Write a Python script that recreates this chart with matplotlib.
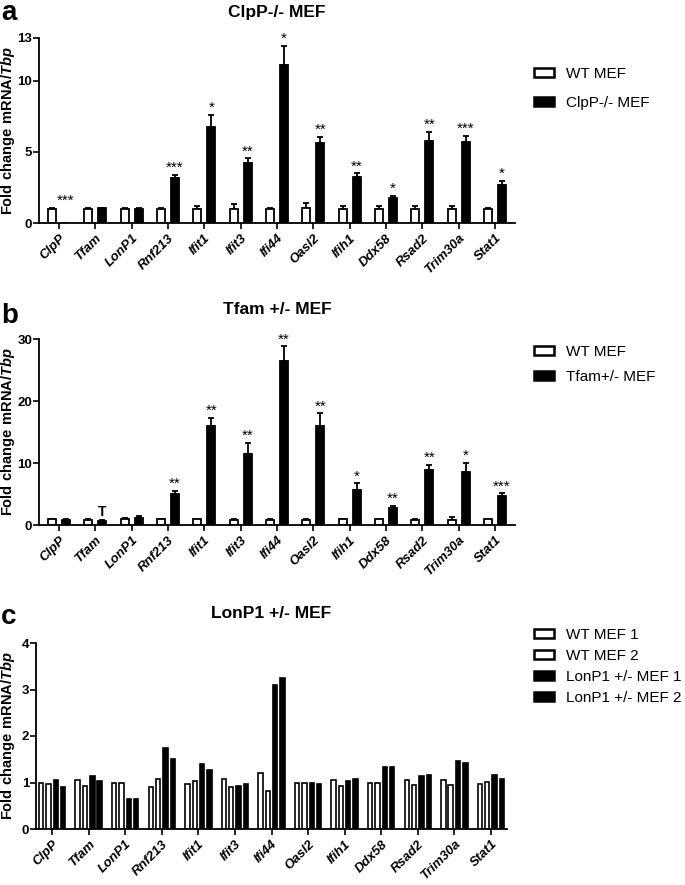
import matplotlib
matplotlib.use('Agg')
import matplotlib.pyplot as plt
from matplotlib.patches import Patch
import numpy as np

plt.rcParams['font.family'] = ['Liberation Sans', 'DejaVu Sans']
plt.rcParams['mathtext.fontset'] = 'custom'
plt.rcParams['mathtext.bfit'] = 'Liberation Sans:italic:bold'
plt.rcParams['mathtext.bf'] = 'Liberation Sans:bold'

genes = ['ClpP', 'Tfam', 'LonP1', 'Rnf213', 'Ifit1', 'Ifit3', 'Ifi44',
         'Oasl2', 'Ifih1', 'Ddx58', 'Rsad2', 'Trim30a', 'Stat1']

# Panel a: ClpP-/- MEF
a_wt = [1.0, 1.0, 1.0, 1.0, 1.0, 1.0, 1.0, 1.05, 1.0, 1.0, 0.98, 1.0, 1.0]
a_wt_err = [0.05, 0.05, 0.04, 0.05, 0.22, 0.36, 0.07, 0.35, 0.2, 0.2, 0.22, 0.2, 0.08]
a_ko = [0.0, 1.03, 0.97, 3.18, 6.78, 4.23, 11.13, 5.6, 3.2, 1.79, 5.76, 5.69, 2.7]
a_ko_err = [0.0, 0.05, 0.05, 0.22, 0.82, 0.31, 1.29, 0.47, 0.28, 0.09, 0.64, 0.43, 0.28]
a_sig = ['***', '', '', '***', '*', '**', '*', '**', '**', '*', '**', '***', '*']
a_labels = ['WT MEF', 'ClpP-/- MEF']

# Panel b: Tfam +/- MEF
b_wt = [0.9, 0.85, 1.0, 0.9, 0.9, 0.85, 0.85, 0.85, 0.9, 0.9, 0.85, 0.85, 0.9]
b_wt_err = [0.05, 0.05, 0.12, 0.05, 0.1, 0.05, 0.05, 0.05, 0.1, 0.1, 0.05, 0.45, 0.05]
b_ko = [0.8, 0.7, 1.15, 5.0, 15.9, 11.5, 26.5, 15.9, 5.65, 2.74, 8.88, 8.6, 4.7]
b_ko_err = [0.1, 0.1, 0.25, 0.45, 1.4, 1.7, 2.3, 2.1, 1.05, 0.33, 0.86, 1.45, 0.4]
b_sig = ['', 'T', '', '**', '**', '**', '**', '**', '*', '**', '**', '*', '***']
b_labels = ['WT MEF', 'Tfam+/- MEF']

# Panel c: LonP1 +/- MEF
c_wt1 = [1.00, 1.05, 1.00, 0.91, 0.97, 1.08, 1.21, 1.00, 1.06, 1.00, 1.06, 1.05, 0.97]
c_wt2 = [0.97, 0.93, 0.99, 1.08, 1.03, 0.90, 0.82, 0.99, 0.92, 0.99, 0.95, 0.94, 1.02]
c_het1 = [1.06, 1.15, 0.65, 1.75, 1.40, 0.92, 3.10, 0.98, 1.04, 1.33, 1.13, 1.46, 1.17]
c_het2 = [0.90, 1.04, 0.65, 1.50, 1.27, 0.96, 3.25, 0.97, 1.08, 1.33, 1.16, 1.42, 1.07]
c_labels = ['WT MEF 1', 'WT MEF 2', 'LonP1 +/- MEF 1', 'LonP1 +/- MEF 2']

W, H = 685, 885
fig = plt.figure(figsize=(W / 100, H / 100), dpi=100)

def px_axes(left, top, right, bottom):
    return fig.add_axes([left / W, 1 - bottom / H, (right - left) / W, (bottom - top) / H])

ylab = r'$\mathbf{Fold\ change\ mRNA/}\mathbfit{Tbp}$'

def style(ax, title, letter, ymax, yticks, letter_y, title_y, left_px, right_px):
    ax.spines['top'].set_visible(False)
    ax.spines['right'].set_visible(False)
    for s in ['left', 'bottom']:
        ax.spines[s].set_linewidth(1.3)
    ax.set_ylim(0, ymax)
    ax.set_yticks(yticks)
    ax.set_yticklabels([str(t) for t in yticks], fontsize=9.5, fontweight='bold')
    ax.tick_params(axis='both', direction='out', length=4, width=1.2, pad=1)
    x = np.arange(len(genes))
    ax.set_xticks(x)
    ax.set_xticklabels(genes, rotation=45, ha='right', rotation_mode='anchor',
                       fontsize=9.5, fontweight='bold', fontstyle='italic')
    ax.tick_params(axis='x', pad=2.5)
    ax.set_ylabel(ylab, fontsize=10.5)
    ax.yaxis.set_label_coords((17 - left_px) / (right_px - left_px), 0.5)
    bb = ax.get_position()
    fig.text((bb.x0 + bb.x1) / 2, 1 - title_y / H, title, ha='center', va='center',
             fontsize=12.5, fontweight='bold')
    fig.text(1 / W, 1 - letter_y / H, letter, ha='left', va='center',
             fontsize=20, fontweight='bold')

def two_bar(ax, wt, wte, ko, koe, sig):
    x = np.arange(len(genes))
    off, bw = 0.19, 0.22
    ax.bar(x - off, wt, bw, color='white', edgecolor='black', linewidth=1.3, zorder=2)
    ax.bar(x + off, ko, bw, color='black', edgecolor='black', linewidth=1.3, zorder=2)
    ax.errorbar(x - off, wt, yerr=[np.zeros(len(wt)), wte], fmt='none', ecolor='black',
                elinewidth=1.3, capsize=2.5, capthick=1.3, zorder=1)
    ko_arr = np.array(ko)
    mask = ko_arr > 0
    ax.errorbar((x + off)[mask], ko_arr[mask], yerr=[np.zeros(mask.sum()), np.array(koe)[mask]],
                fmt='none', ecolor='black', elinewidth=1.3, capsize=2.5, capthick=1.3, zorder=1)
    for i, s in enumerate(sig):
        if not s:
            continue
        top = max(ko[i] + koe[i], wt[i] + wte[i])
        ax.annotate(s, (x[i] + off, top), xytext=(0, 0), textcoords='offset points',
                    ha='center', va='bottom', fontsize=11 if s != 'T' else 10,
                    fontweight='normal' if s != 'T' else 'bold')

def legend(ax, handles, labels, x, y, ls):
    ax.legend(handles, labels, loc='upper left', bbox_to_anchor=(x / W, 1 - y / H),
              bbox_transform=fig.transFigure, frameon=False, fontsize=11,
              handlelength=1.3, handleheight=0.55, handletextpad=0.8,
              labelspacing=ls, borderpad=0, borderaxespad=0)

# Panel a
axa = px_axes(39, 38, 515, 223)
axa.set_xlim(-0.55, 12.55)
two_bar(axa, a_wt, a_wt_err, a_ko, a_ko_err, a_sig)
style(axa, 'ClpP-/- MEF', 'a', 13, [0, 5, 10, 13], 13, 12, 39, 515)
legend(axa, [Patch(facecolor='white', edgecolor='black', linewidth=1.8),
             Patch(facecolor='black', edgecolor='black', linewidth=1.8)],
       a_labels, 534, 67, 0.95)

# Panel b
axb = px_axes(39, 339, 515, 525)
axb.set_xlim(-0.55, 12.55)
two_bar(axb, b_wt, b_wt_err, b_ko, b_ko_err, b_sig)
style(axb, 'Tfam +/- MEF', 'b', 30, [0, 10, 20, 30], 316, 310, 39, 515)
legend(axb, [Patch(facecolor='white', edgecolor='black', linewidth=1.8),
             Patch(facecolor='black', edgecolor='black', linewidth=1.8)],
       b_labels, 534, 345, 0.7)

# Panel c
axc = px_axes(36, 643, 507, 829)
axc.set_xlim(-0.44, 12.44)
xc = np.arange(len(genes))
bw4 = 0.12
offs = [-0.3, -0.1, 0.1, 0.3]
series = [c_wt1, c_wt2, c_het1, c_het2]
fills = ['white', 'white', 'black', 'black']
for o, s, f in zip(offs, series, fills):
    axc.bar(xc + o, s, bw4, color=f, edgecolor='black', linewidth=1.2, zorder=2)
style(axc, 'LonP1 +/- MEF', 'c', 4, [0, 1, 2, 3, 4], 617, 613, 36, 507)
legend(axc, [Patch(facecolor=f, edgecolor='black', linewidth=1.8) for f in fills],
       c_labels, 534, 628, 0.45)

fig.savefig('out.png', dpi=100)
